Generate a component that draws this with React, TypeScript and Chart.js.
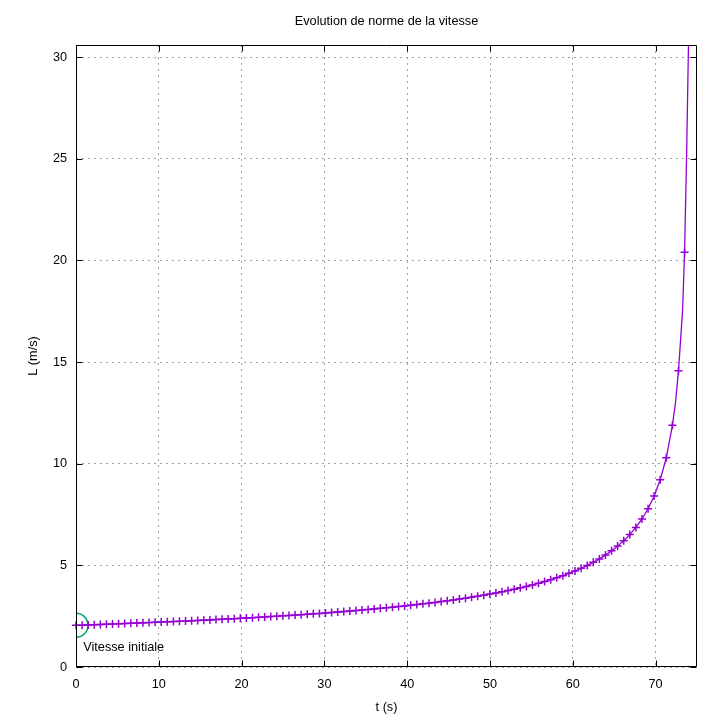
import { useEffect, useRef } from "react";
import { Chart, registerables } from "chart.js";

Chart.register(...registerables);

// time of each sample (s)
const tValues = [
  0, 0.735, 1.47, 2.205, 2.94, 3.675, 4.41, 5.145, 5.88, 6.615,
  7.35, 8.085, 8.82, 9.555, 10.29, 11.025, 11.76, 12.495, 13.23, 13.965,
  14.7, 15.435, 16.17, 16.905, 17.64, 18.375, 19.11, 19.845, 20.58, 21.315,
  22.05, 22.785, 23.52, 24.255, 24.99, 25.725, 26.46, 27.195, 27.93, 28.665,
  29.4, 30.135, 30.87, 31.605, 32.34, 33.075, 33.81, 34.545, 35.28, 36.015,
  36.75, 37.485, 38.22, 38.955, 39.69, 40.425, 41.16, 41.895, 42.63, 43.365,
  44.1, 44.835, 45.57, 46.305, 47.04, 47.775, 48.51, 49.245, 49.98, 50.715,
  51.45, 52.185, 52.92, 53.655, 54.39, 55.125, 55.86, 56.595, 57.33, 58.065,
  58.8, 59.535, 60.27, 61.005, 61.74, 62.475, 63.21, 63.945, 64.68, 65.415,
  66.15, 66.885, 67.62, 68.355, 69.09, 69.825, 70.56, 71.295, 72.03, 72.765,
  73.5,
];

// speed norm at each sample (m/s)
const speedValues = [
  2.05, 2.06, 2.07, 2.081, 2.092, 2.102, 2.113, 2.125, 2.136, 2.148,
  2.159, 2.171, 2.184, 2.196, 2.209, 2.221, 2.234, 2.248, 2.261, 2.275,
  2.289, 2.303, 2.318, 2.332, 2.348, 2.363, 2.379, 2.395, 2.411, 2.428,
  2.445, 2.462, 2.48, 2.498, 2.517, 2.536, 2.555, 2.575, 2.595, 2.616,
  2.638, 2.659, 2.682, 2.705, 2.728, 2.753, 2.778, 2.803, 2.83, 2.857,
  2.885, 2.913, 2.943, 2.973, 3.005, 3.037, 3.071, 3.106, 3.142, 3.179,
  3.217, 3.257, 3.299, 3.342, 3.387, 3.433, 3.482, 3.533, 3.586, 3.642,
  3.7, 3.761, 3.825, 3.893, 3.965, 4.04, 4.12, 4.205, 4.295, 4.392,
  4.495, 4.606, 4.726, 4.855, 4.996, 5.15, 5.319, 5.505, 5.713, 5.947,
  6.211, 6.514, 6.867, 7.283, 7.786, 8.41, 9.213, 10.3, 11.89, 14.57,
  20.4,
];

// extra samples of the dense curve (no markers) near the asymptote
const curveExtraT = [72.4, 73.26, 73.75, 74.05];
const curveExtraV = [13.0, 17.55, 25.3, 32.5];

const xTicks = [0, 10, 20, 30, 40, 50, 60, 70];
const yTicks = [0, 5, 10, 15, 20, 25, 30];
const xRange = [0, 75];
const yRange = [0, 30.6];

const labelPos = [1, 1];
const titleText = "Evolution de norme de la vitesse";
const xTitleText = "t (s)";
const yTitleText = "L (m/s)";
const labelText = "Vitesse initiale";

const FONT = '"Liberation Sans", Arial, sans-serif';
const FONT_SIZE = 12.7;
const PURPLE = "#9400d3";
const GREEN = "#009e73";

export default function App() {
  const canvasRef = useRef<HTMLCanvasElement | null>(null);

  useEffect(() => {
    document.body.style.margin = "0";
    const canvas = canvasRef.current;
    if (!canvas) return;

    const curve = tValues
      .map((t, i) => ({ x: t, y: speedValues[i] }))
      .concat(curveExtraT.map((t, i) => ({ x: t, y: curveExtraV[i] })))
      .sort((a, b) => a.x - b.x);
    const markers = tValues.map((t, i) => ({ x: t, y: speedValues[i] }));

    const decor = {
      id: "decor",
      afterDraw(chart: any) {
        const { ctx, chartArea: a, scales } = chart;
        const xs = scales.x;
        const ys = scales.y;
        ctx.save();
        const L = Math.round(a.left) + 0.5;
        const R = Math.round(a.right) - 0.5;
        const T = Math.round(a.top) + 0.5;
        const B = Math.round(a.bottom) - 0.5;
        ctx.strokeStyle = "#000";
        ctx.lineWidth = 1;
        ctx.setLineDash([]);
        ctx.beginPath();
        ctx.rect(L, T, R - L, B - T);
        const tl = 6;
        yTicks.forEach((v) => {
          const p = Math.round(ys.getPixelForValue(v)) + 0.5;
          ctx.moveTo(L, p);
          ctx.lineTo(L + tl, p);
          ctx.moveTo(R, p);
          ctx.lineTo(R - tl, p);
        });
        xTicks.forEach((v) => {
          const p = Math.round(xs.getPixelForValue(v)) + 0.5;
          ctx.moveTo(p, B);
          ctx.lineTo(p, B - tl);
          ctx.moveTo(p, T);
          ctx.lineTo(p, T + tl);
        });
        ctx.stroke();

        ctx.fillStyle = "#000";
        ctx.font = `${FONT_SIZE}px ${FONT}`;
        ctx.textAlign = "center";
        ctx.textBaseline = "middle";
        const cx = (a.left + a.right) / 2;
        ctx.fillText(titleText, cx, 21);
        ctx.fillText(xTitleText, cx, 707);
        ctx.textAlign = "left";
        ctx.fillText(
          labelText,
          xs.getPixelForValue(labelPos[0]) - 1,
          ys.getPixelForValue(labelPos[1]) + 1
        );
        ctx.translate(33, (a.top + a.bottom) / 2);
        ctx.rotate(-Math.PI / 2);
        ctx.textAlign = "center";
        ctx.fillText(yTitleText, 0, 0);
        ctx.restore();
      },
    };

    const chart = new Chart(canvas, {
      type: "scatter",
      data: {
        datasets: [
          {
            data: curve,
            showLine: true,
            borderColor: PURPLE,
            borderWidth: 1.3,
            pointRadius: 0,
            clip: 0,
          } as any,
          {
            data: markers,
            showLine: false,
            pointStyle: "cross",
            pointRadius: 4,
            borderColor: PURPLE,
            backgroundColor: PURPLE,
            pointBorderWidth: 1.5,
            clip: false,
          } as any,
          {
            data: [{ x: tValues[0], y: speedValues[0] }],
            showLine: false,
            pointStyle: "circle",
            pointRadius: 12,
            borderColor: GREEN,
            backgroundColor: "rgba(0,0,0,0)",
            pointBorderWidth: 1.5,
            clip: 0,
          } as any,
        ],
      },
      options: {
        animation: false,
        responsive: false,
        devicePixelRatio: 1,
        layout: { padding: { top: 45, right: 29, left: 0, bottom: 0 } },
        plugins: {
          legend: { display: false },
          tooltip: { enabled: false },
          title: { display: false },
        },
        scales: {
          x: {
            type: "linear",
            min: xRange[0],
            max: xRange[1],
            afterBuildTicks: (s: any) => {
              s.ticks = xTicks.map((v) => ({ value: v }));
            },
            afterFit: (s: any) => {
              s.height = 50;
            },
            grid: { color: "#a0a0a0", lineWidth: 1, drawTicks: false },
            border: { display: false, dash: [2, 4] },
            ticks: {
              autoSkip: false,
              maxRotation: 0,
              padding: 10,
              color: "#000",
              font: { family: FONT, size: FONT_SIZE },
            },
          },
          y: {
            type: "linear",
            min: yRange[0],
            max: yRange[1],
            afterBuildTicks: (s: any) => {
              s.ticks = yTicks.map((v) => ({ value: v }));
            },
            afterFit: (s: any) => {
              s.width = 76;
            },
            grid: { color: "#a0a0a0", lineWidth: 1, drawTicks: false },
            border: { display: false, dash: [2, 4] },
            ticks: {
              autoSkip: false,
              padding: 9,
              color: "#000",
              font: { family: FONT, size: FONT_SIZE },
            },
          },
        },
      } as any,
      plugins: [decor],
    });

    return () => chart.destroy();
  }, []);

  return (
    <div style={{ width: 726, height: 717, background: "#fff" }}>
      <canvas ref={canvasRef} width={726} height={717} />
    </div>
  );
}
